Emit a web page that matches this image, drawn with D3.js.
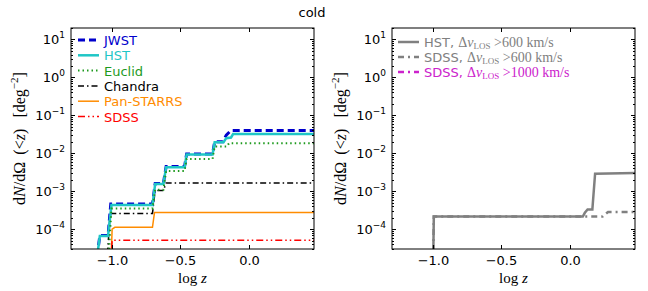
<!DOCTYPE html>
<html>
<head>
<meta charset="utf-8">
<script src="https://cdn.jsdelivr.net/npm/d3@7"></script>
<style>
  body { margin: 0; background: #fff; }
  text { font-family: "DejaVu Sans", sans-serif; }
  .math { font-family: "Liberation Serif", "DejaVu Serif", serif; }
</style>
</head>
<body>
<svg id="chart"></svg>
<script>
// cumulative counts, left panel (log z vs dN/dOmega)
const zJWST = [-1.12, -1.09, -1.03, -1.01, -0.705, -0.685, -0.625, -0.605, -0.47, -0.455, -0.265, -0.25, -0.19, -0.165, -0.13, 0.48];
const nJWST = [1e-5, 6.8e-5, 6.8e-5, 4.6e-4, 4.6e-4, 1.6e-3, 1.6e-3, 4.5e-3, 4.5e-3, 9.6e-3, 9.6e-3, 2.0e-2, 2.0e-2, 3.0e-2, 4.0e-2, 4.0e-2];
const zHST = [-1.12, -1.09, -1.03, -1.005, -0.705, -0.685, -0.625, -0.605, -0.47, -0.455, -0.265, -0.25, -0.185, -0.165, -0.13, -0.115, 0.48];
const nHST = [1e-5, 6.6e-5, 6.6e-5, 4.3e-4, 4.3e-4, 1.55e-3, 1.55e-3, 4.3e-3, 4.3e-3, 9.3e-3, 9.3e-3, 1.95e-2, 1.95e-2, 2.5e-2, 2.6e-2, 3.2e-2, 3.2e-2];
const zEuclid = [-1.03, -1.005, -0.705, -0.685, -0.625, -0.605, -0.47, -0.455, -0.265, -0.25, -0.16, -0.145, 0.48];
const nEuclid = [1e-5, 3.5e-4, 3.5e-4, 1.1e-3, 1.1e-3, 3.4e-3, 3.4e-3, 7.1e-3, 7.1e-3, 1.5e-2, 1.5e-2, 1.85e-2, 1.85e-2];
const zChandra = [-1.04, -1.015, -0.705, -0.685, -0.625, -0.605, 0.48];
const nChandra = [1e-5, 2.6e-4, 2.6e-4, 1.05e-3, 1.05e-3, 1.65e-3, 1.65e-3];
const zPanSTARRS = [-1.01, -1.0, -0.98, -0.705, -0.69, 0.48];
const nPanSTARRS = [1e-5, 1.0e-4, 1.12e-4, 1.12e-4, 2.75e-4, 2.75e-4];
const zSDSS = [-1.01, -1.0, 0.48];
const nSDSS = [1e-5, 5.1e-5, 5.1e-5];

// right panel, LOS velocity cuts
const zHSTv600 = [-1.0, -0.995, 0.095, 0.11, 0.13, 0.165, 0.185, 0.48];
const nHSTv600 = [1e-5, 2.15e-4, 2.15e-4, 2.7e-4, 3.3e-4, 3.3e-4, 2.9e-3, 3.0e-3];
const zSDSSv600 = [-1.0, -0.995, 0.24, 0.28, 0.48];
const nSDSSv600 = [1e-5, 2.15e-4, 2.15e-4, 2.84e-4, 2.84e-4];
const zSDSSv1000 = [];
const nSDSSv1000 = [];

const xTicks = [-1.0, -0.5, 0.0];
const yTicks = [1e1, 1e0, 1e-1, 1e-2, 1e-3, 1e-4];
const yExp = ["1", "0", "-1", "-2", "-3", "-4"];

const width = 648, height = 291;
const svg = d3.select("#chart").attr("width", width).attr("height", height);

svg.append("text").attr("x", 312).attr("y", 17)
  .attr("text-anchor", "middle").attr("font-size", 13).text("cold");

function drawPanel(idx, x0, x1, series, legend) {
  const top = 28, bottom = 249;
  const x = d3.scaleLinear().domain([-1.301, 0.477]).range([x0, x1]);
  const y = d3.scaleLog().domain([3e-5, 20]).range([bottom, top]);
  const g = svg.append("g");

  g.append("clipPath").attr("id", "clip" + idx)
    .append("rect").attr("x", x0).attr("y", top).attr("width", x1 - x0).attr("height", bottom - top);

  const line = d3.line().x(d => x(d[0])).y(d => y(Math.max(d[1], 1e-6)));

  series.forEach(s => {
    if (!s.z.length) return;
    g.append("path")
      .datum(d3.zip(s.z, s.n))
      .attr("clip-path", "url(#clip" + idx + ")")
      .attr("fill", "none")
      .attr("stroke", s.color)
      .attr("stroke-width", s.w)
      .attr("stroke-dasharray", s.dash)
      .attr("d", line);
  });

  // frame
  g.append("rect").attr("x", x0).attr("y", top).attr("width", x1 - x0).attr("height", bottom - top)
    .attr("fill", "none").attr("stroke", "#000").attr("stroke-width", 1);

  // x ticks (inside, top and bottom)
  xTicks.forEach(t => {
    const px = Math.round(x(t)) + 0.5;
    g.append("line").attr("x1", px).attr("x2", px).attr("y1", bottom).attr("y2", bottom - 4).attr("stroke", "#000");
    g.append("line").attr("x1", px).attr("x2", px).attr("y1", top).attr("y2", top + 4).attr("stroke", "#000");
    g.append("text").attr("x", px).attr("y", 265).attr("text-anchor", "middle").attr("font-size", 13)
      .text(d3.format(".1f")(t).replace("-", "\u2212"));
  });

  // y ticks, major + minor
  for (let e = -5; e <= 1; e++) {
    for (let m = 1; m <= 9; m++) {
      const v = m * Math.pow(10, e);
      if (v < 3e-5 || v > 20) continue;
      const py = Math.round(y(v)) + 0.5;
      const len = m === 1 ? 4 : 2;
      g.append("line").attr("x1", x0).attr("x2", x0 + len).attr("y1", py).attr("y2", py).attr("stroke", "#000");
      g.append("line").attr("x1", x1).attr("x2", x1 - len).attr("y1", py).attr("y2", py).attr("stroke", "#000");
    }
  }
  yTicks.forEach((t, i) => {
    const tx = g.append("text").attr("x", x0 - 6).attr("y", y(t) + 5).attr("text-anchor", "end").attr("font-size", 13);
    tx.append("tspan").text("10");
    tx.append("tspan").attr("dy", -6).attr("font-size", 9).text(yExp[i].replace("-", "\u2212"));
  });

  // axis labels
  const cx = (x0 + x1) / 2;
  const xl = g.append("text").attr("class", "math").attr("x", cx).attr("y", 283)
    .attr("text-anchor", "middle").attr("font-size", 15);
  xl.append("tspan").text("log ");
  xl.append("tspan").attr("font-style", "italic").text("z");

  const yl = g.append("text").attr("class", "math").attr("text-anchor", "middle").attr("font-size", 16)
    .attr("transform", "translate(" + (x0 - 46) + "," + ((top + bottom) / 2) + ") rotate(-90)");
  yl.append("tspan").text("d");
  yl.append("tspan").attr("font-style", "italic").text("N");
  yl.append("tspan").text("/dΩ \u2009(<");
  yl.append("tspan").attr("font-style", "italic").text("z");
  yl.append("tspan").text(")\u2002\u2009[deg");
  yl.append("tspan").attr("dy", -7).attr("font-size", 11).text("\u22122");
  yl.append("tspan").attr("dy", 7).text("]");

  // legend
  legend.forEach((l, i) => {
    const ly = l.y0 + i * l.step;
    g.append("line").attr("x1", l.lx).attr("x2", l.lx + l.len).attr("y1", ly).attr("y2", ly)
      .attr("stroke", l.s.color).attr("stroke-width", l.s.w).attr("stroke-dasharray", l.s.dash);
    const t = g.append("text").attr("x", l.lx + l.len + 5).attr("y", ly + 5)
      .attr("font-size", 13).attr("fill", l.s.color);
    l.label(t);
  });
}

const sJWST = {z: zJWST, n: nJWST, color: "#0000cc", w: 3, dash: "7,4"};
const sHST = {z: zHST, n: nHST, color: "#1fc6c6", w: 2.5, dash: null};
const sEuclid = {z: zEuclid, n: nEuclid, color: "#1e9a1e", w: 2, dash: "1.5,3"};
const sChandra = {z: zChandra, n: nChandra, color: "#000000", w: 1.5, dash: "6,3,1.5,3"};
const sPan = {z: zPanSTARRS, n: nPanSTARRS, color: "#ff8c00", w: 1.5, dash: null};
const sSDSS = {z: zSDSS, n: nSDSS, color: "#ff0000", w: 1.5, dash: "7,3,1.5,3,1.5,3"};

const plainLabel = txt => t => t.text(txt);
const leftLegend = [
  [sJWST, "JWST"], [sHST, "HST"], [sEuclid, "Euclid"],
  [sChandra, "Chandra"], [sPan, "Pan-STARRS"], [sSDSS, "SDSS"]
].map(d => ({s: d[0], label: plainLabel(d[1]), lx: 78, len: 21, y0: 40, step: 15.3}));

drawPanel(0, 71, 314, [sPan, sSDSS, sChandra, sJWST, sHST, sEuclid], leftLegend);

const sHSTv = {z: zHSTv600, n: nHSTv600, color: "#808080", w: 2.5, dash: null};
const sSDSSv = {z: zSDSSv600, n: nSDSSv600, color: "#808080", w: 2.5, dash: "6,4,2,4"};
const sSDSSv2 = {z: zSDSSv1000, n: nSDSSv1000, color: "#cc22cc", w: 2.5, dash: "6,4,2,4"};

const velLabel = (name, cut) => t => {
  t.append("tspan").text(name + ", ");
  t.append("tspan").attr("class", "math").attr("font-size", 14).text("Δ");
  t.append("tspan").attr("class", "math").attr("font-size", 14).attr("font-style", "italic").text("v");
  t.append("tspan").attr("class", "math").attr("font-size", 9).attr("dy", 2).text("LOS");
  t.append("tspan").attr("class", "math").attr("font-size", 14).attr("dy", -2).text(" >" + cut + " km/s");
};
const rightLegend = [
  [sHSTv, velLabel("HST", "600")], [sSDSSv, velLabel("SDSS", "600")], [sSDSSv2, velLabel("SDSS", "1000")]
].map(d => ({s: d[0], label: d[1], lx: 398, len: 21, y0: 42, step: 15}));

drawPanel(1, 392, 635, [sSDSSv2, sSDSSv, sHSTv], rightLegend);
</script>
</body>
</html>
